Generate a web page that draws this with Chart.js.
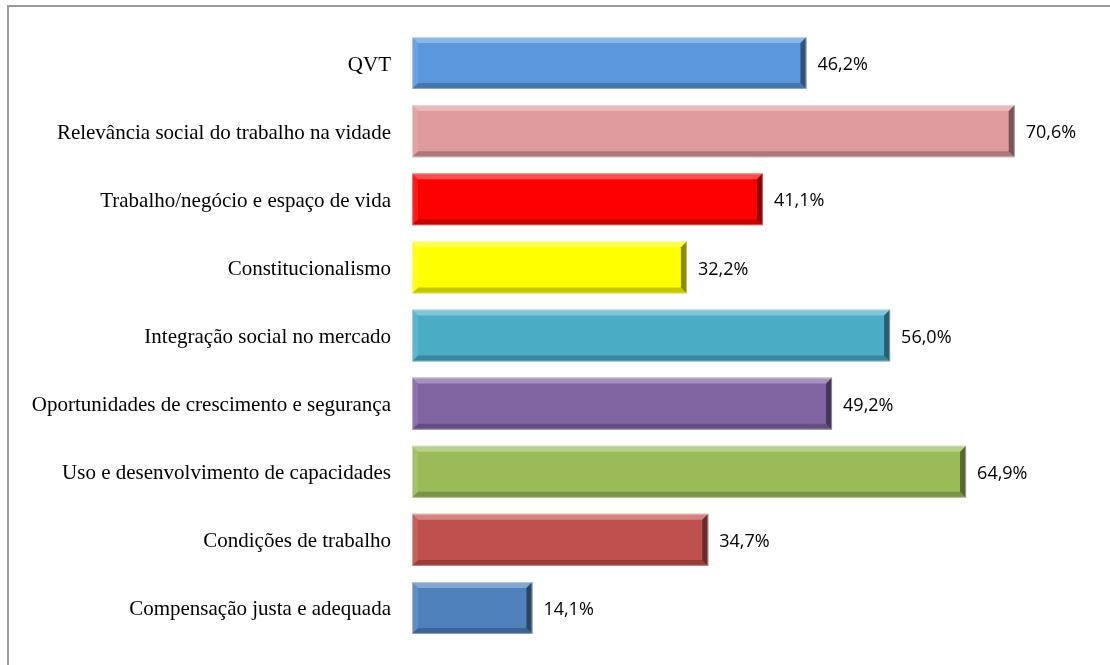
<!DOCTYPE html>
<html>
<head>
<meta charset="utf-8">
<script src="https://cdn.jsdelivr.net/npm/chart.js@4"></script>
<style>
  body { margin: 0; background: #fff; overflow: hidden; }
  #frame {
    position: absolute; left: 7px; top: 5px; width: 1200px; height: 800px;
    border-top: 2px solid #9a9a9a; border-left: 2px solid #9a9a9a;
  }
  #chart { position: absolute; left: 0; top: 0; }
</style>
</head>
<body>
<div id="frame"></div>
<canvas id="chart" width="1110" height="665"></canvas>
<script>
const categories = [
  "QVT",
  "Relevância social do trabalho na vidade",
  "Trabalho/negócio e espaço de vida",
  "Constitucionalismo",
  "Integração social no mercado",
  "Oportunidades de crescimento e segurança",
  "Uso e desenvolvimento de capacidades",
  "Condições de trabalho",
  "Compensação justa e adequada"
];
const values = [46.2, 70.6, 41.1, 32.2, 56.0, 49.2, 64.9, 34.7, 14.1];
const valueLabels = ["46,2%", "70,6%", "41,1%", "32,2%", "56,0%", "49,2%", "64,9%", "34,7%", "14,1%"];
const barColors = ["#5b97dd", "#de9a9c", "#ff0000", "#ffff00", "#4bacc6", "#8064a2", "#9bbb59", "#c0504d", "#4f81bd"];

// bevel look on every bar, drawn over the bar element
const bevelPlugin = {
  id: "bevel",
  afterDatasetsDraw(chart) {
    const ctx = chart.ctx;
    const b = 6;
    chart.getDatasetMeta(0).data.forEach(bar => {
      const left = bar.base, right = bar.x;
      const top = bar.y - bar.height / 2, bottom = bar.y + bar.height / 2;
      const poly = (pts, fill) => {
        ctx.beginPath();
        ctx.moveTo(pts[0][0], pts[0][1]);
        for (let i = 1; i < pts.length; i++) ctx.lineTo(pts[i][0], pts[i][1]);
        ctx.closePath();
        ctx.fillStyle = fill;
        ctx.fill();
      };
      ctx.save();
      poly([[left, top], [right, top], [right - b, top + b], [left + b, top + b]], "rgba(255,255,255,0.3)");
      poly([[left, top], [left + b, top + b], [left + b, bottom - b], [left, bottom]], "rgba(255,255,255,0.1)");
      poly([[left, bottom], [left + b, bottom - b], [right - b, bottom - b], [right, bottom]], "rgba(0,0,0,0.22)");
      poly([[right, top], [right - b, top + b], [right - b, bottom - b], [right, bottom]], "rgba(0,0,0,0.45)");
      ctx.strokeStyle = "rgba(255,255,255,0.4)";
      ctx.lineWidth = 1;
      ctx.strokeRect(left + 0.5, top + 0.5, right - left - 1, bottom - top - 1);
      ctx.restore();
    });
  }
};

// percentage text right of each bar
const valueLabelPlugin = {
  id: "valueLabels",
  afterDatasetsDraw(chart) {
    const ctx = chart.ctx;
    ctx.save();
    ctx.font = "18px 'Open Sans'";
    ctx.fillStyle = "#000";
    ctx.textAlign = "left";
    ctx.textBaseline = "middle";
    chart.getDatasetMeta(0).data.forEach((bar, i) => {
      ctx.fillText(valueLabels[i], bar.x + 11, bar.y + 2);
    });
    ctx.restore();
  }
};

new Chart(document.getElementById("chart").getContext("2d"), {
  type: "bar",
  data: {
    labels: categories,
    datasets: [{
      data: values,
      backgroundColor: barColors,
      borderWidth: 0,
      categoryPercentage: 1,
      barPercentage: 0.765
    }]
  },
  options: {
    indexAxis: "y",
    responsive: false,
    animation: false,
    layout: { padding: { top: 29, bottom: 23, left: 0, right: 15 } },
    plugins: { legend: { display: false }, tooltip: { enabled: false } },
    scales: {
      x: { display: false, min: 0, max: 80 },
      y: {
        afterFit: scale => {
          scale.width = 412;
          scale.paddingTop = 0;
          scale.paddingBottom = 0;
        },
        grid: { display: false, drawTicks: false },
        border: { display: false },
        ticks: {
          padding: 21,
          labelOffset: 2,
          color: "#000",
          font: { family: "'Liberation Serif'", size: 21 }
        }
      }
    }
  },
  plugins: [bevelPlugin, valueLabelPlugin]
});
</script>
</body>
</html>
